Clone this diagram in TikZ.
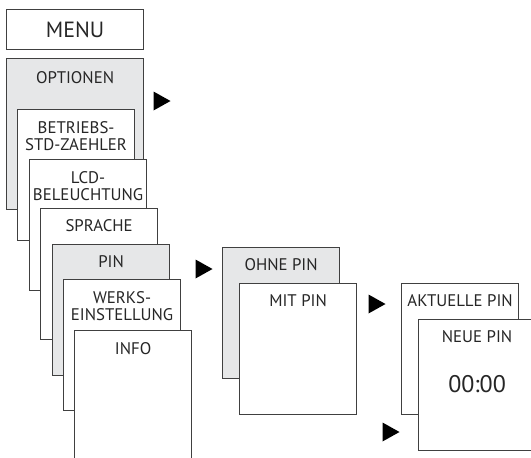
\documentclass[tikz,border=0pt]{standalone}
\usepackage{fontspec}
\setmainfont{PT Sans}
\definecolor{linegray}{RGB}{64,64,64}
\definecolor{boxgray}{RGB}{230,231,232}
\usetikzlibrary{positioning}
\tikzset{
  % boxes
	mbox/.style   ={draw=linegray,line width=1.2pt,fill=white,anchor=north west,inner sep=0pt,
	                minimum width=117pt,minimum height=131pt},
	mboxg/.style  ={mbox,fill=boxgray},
  % text (base = last line)
	mtext/.style  ={anchor=base,align=center,inner sep=0pt,text=black!85,
	                font=\fontsize{16.8}{17}\selectfont},
	mbig/.style   ={mtext,font=\fontsize{22}{24}\selectfont},
  % marker
	mtri/.style   ={fill=black}
}
\newcommand{\marker}[1]{\fill[mtri] (#1) ++(-8.5,-9.5) -- ++(17,9.5) -- ++(-17,9.5) -- cycle;}

\begin{document}
\begin{tikzpicture}[x=1pt,y=-1pt]
		\useasboundingbox (0,0) rectangle (531,458);
		\clip (0,0) rectangle (531,458);
		% left column
		\node[mbox,minimum width=137pt,minimum height=40pt] (menu) at (6,9) {};
		\node[mbig,anchor=center] at (menu.center) {MENU};
		\node[mboxg,minimum width=137pt,minimum height=151pt] (opt) at (6,58) {};
		\node[mtext] at ([yshift=-25pt]opt.north) {OPTIONEN};
		\node[mbox] (betr) at (17,109) {};
		\node[mtext] at ([yshift=-41pt]betr.north) {BETRIEBS-\\STD-ZAEHLER};
		\node[mbox] (lcd) at (29,159) {};
		\node[mtext] at ([yshift=-41pt]lcd.north) {LCD-\\BELEUCHTUNG};
		\node[mbox] (spr) at (40,208) {};
		\node[mtext] at ([yshift=-23pt]spr.north) {SPRACHE};
		\node[mboxg] (pin) at (52,244) {};
		\node[mtext] at ([yshift=-23pt]pin.north) {PIN};
		\node[mbox] (werk) at (63,279) {};
		\node[mtext] at ([yshift=-41pt]werk.north) {WERKS-\\EINSTELLUNG};
		\node[mbox,minimum height=140pt] (info) at (74,330) {};
		\node[mtext] at ([yshift=-24pt]info.north) {INFO};
		% PIN
		\node[mboxg] (ohne) at (222,247) {};
		\node[mtext] at ([yshift=-23pt]ohne.north) {OHNE PIN};
		\node[mbox] (mit) at (239,283) {};
		\node[mtext] at ([yshift=-23pt]mit.north) {MIT PIN};
		% MIT PIN
		\node[mbox] (akt) at (401,283) {};
		\node[mtext] at ([yshift=-23pt]akt.north) {AKTUELLE PIN};
		\node[mbox] (neu) at (418,319) {};
		\node[mtext] at ([yshift=-23pt]neu.north) {NEUE PIN};
		\node[mtext,font=\fontsize{24}{26}\selectfont] at ([yshift=-73pt]neu.north) {00:00};
		% markers
		\coordinate (m1) at (162,101);
		\coordinate (m2) at (204,269);
		\coordinate (m3) at (377,304);
		\coordinate (m4) at (391,432);
		\foreach \m in {m1,m2,m3,m4} {\marker{\m}}
\end{tikzpicture}
\end{document}
